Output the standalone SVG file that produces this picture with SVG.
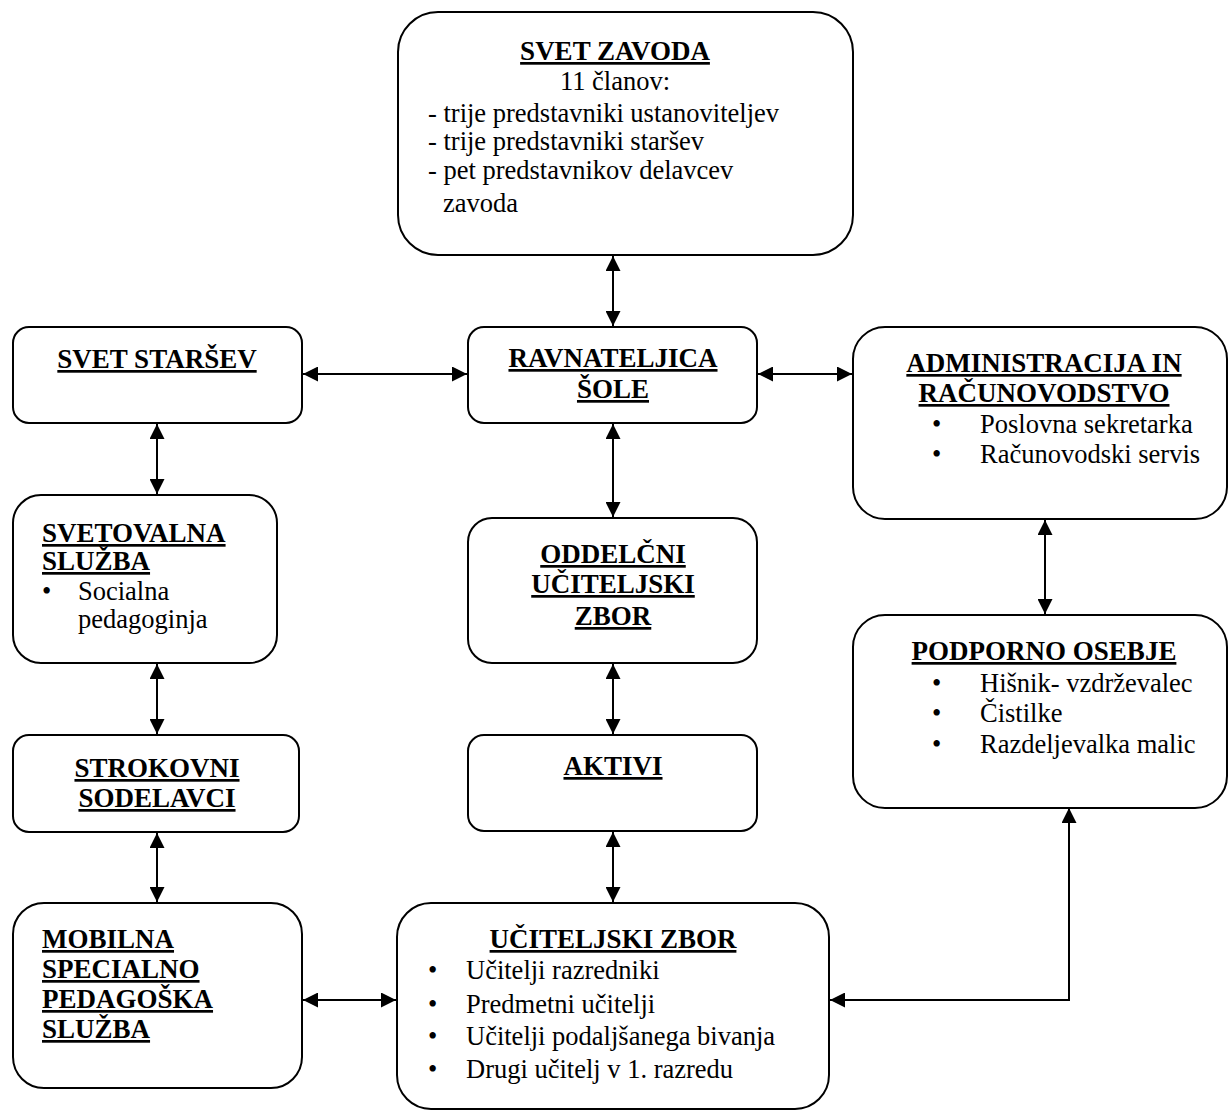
<svg xmlns="http://www.w3.org/2000/svg" width="1229" height="1111" viewBox="0 0 1229 1111">
<style>
.box{fill:#fff;stroke:#000;stroke-width:2}
text{font-family:"Liberation Serif","Times New Roman",serif;font-size:26.5px;fill:#000}
.h{font-weight:bold;text-decoration:underline;font-size:27px}
.c{text-anchor:middle}
.ln{fill:none;stroke:#000;stroke-width:2}
</style>
<defs>
<marker id="ah" markerUnits="userSpaceOnUse" markerWidth="16" markerHeight="15" refX="15" refY="7.5" orient="auto-start-reverse">
<path d="M0,0 L15,7.5 L0,15 z" fill="#000"/>
</marker>
</defs>
<rect width="1229" height="1111" fill="#fff"/>
<g id="connectors">
<line class="ln" x1="613" y1="256" x2="613" y2="326" marker-start="url(#ah)" marker-end="url(#ah)"/>
<line class="ln" x1="303" y1="374" x2="467" y2="374" marker-start="url(#ah)" marker-end="url(#ah)"/>
<line class="ln" x1="758" y1="374" x2="852" y2="374" marker-start="url(#ah)" marker-end="url(#ah)"/>
<line class="ln" x1="613" y1="424" x2="613" y2="517" marker-start="url(#ah)" marker-end="url(#ah)"/>
<line class="ln" x1="613" y1="664" x2="613" y2="734" marker-start="url(#ah)" marker-end="url(#ah)"/>
<line class="ln" x1="613" y1="832" x2="613" y2="902" marker-start="url(#ah)" marker-end="url(#ah)"/>
<line class="ln" x1="157" y1="424" x2="157" y2="494" marker-start="url(#ah)" marker-end="url(#ah)"/>
<line class="ln" x1="157" y1="664" x2="157" y2="734" marker-start="url(#ah)" marker-end="url(#ah)"/>
<line class="ln" x1="157" y1="833" x2="157" y2="902" marker-start="url(#ah)" marker-end="url(#ah)"/>
<line class="ln" x1="303" y1="1000" x2="396" y2="1000" marker-start="url(#ah)" marker-end="url(#ah)"/>
<line class="ln" x1="1045" y1="520" x2="1045" y2="614" marker-start="url(#ah)" marker-end="url(#ah)"/>
<polyline class="ln" points="830,1000 1069,1000 1069,808" marker-start="url(#ah)" marker-end="url(#ah)"/>
</g>
<g id="svet-zavoda">
<rect class="box" x="398" y="12" width="455" height="243" rx="40" ry="40"/>
<text class="h c" x="615" y="60">SVET ZAVODA</text>
<text class="c" x="615" y="90">11 članov:</text>
<text x="428" y="122">- trije predstavniki ustanoviteljev</text>
<text x="428" y="150">- trije predstavniki staršev</text>
<text x="428" y="179">- pet predstavnikov delavcev</text>
<text x="443" y="212">zavoda</text>
</g>
<g id="svet-starsev">
<rect class="box" x="13" y="327" width="289" height="96" rx="16" ry="16"/>
<text class="h c" x="157" y="368">SVET STARŠEV</text>
</g>
<g id="ravnateljica">
<rect class="box" x="468" y="327" width="289" height="96" rx="16" ry="16"/>
<text class="h c" x="613" y="367">RAVNATELJICA</text>
<text class="h c" x="613" y="398">ŠOLE</text>
</g>
<g id="administracija">
<rect class="box" x="853" y="327" width="374" height="192" rx="32" ry="32"/>
<text class="h c" x="1044" y="372">ADMINISTRACIJA IN</text>
<text class="h c" x="1044" y="402">RAČUNOVODSTVO</text>
<text x="932" y="433">•</text>
<text x="980" y="433">Poslovna sekretarka</text>
<text x="932" y="463">•</text>
<text x="980" y="463">Računovodski servis</text>
</g>
<g id="svetovalna">
<rect class="box" x="13" y="495" width="264" height="168" rx="28" ry="28"/>
<text class="h" x="42" y="542">SVETOVALNA</text>
<text class="h" x="42" y="570">SLUŽBA</text>
<text x="42" y="600">•</text>
<text x="78" y="600">Socialna</text>
<text x="78" y="628">pedagoginja</text>
</g>
<g id="oddelcni">
<rect class="box" x="468" y="518" width="289" height="145" rx="24" ry="24"/>
<text class="h c" x="613" y="563">ODDELČNI</text>
<text class="h c" x="613" y="593">UČITELJSKI</text>
<text class="h c" x="613" y="625">ZBOR</text>
</g>
<g id="podporno">
<rect class="box" x="853" y="615" width="374" height="193" rx="32" ry="32"/>
<text class="h c" x="1044" y="660">PODPORNO OSEBJE</text>
<text x="932" y="692">•</text>
<text x="980" y="692">Hišnik- vzdrževalec</text>
<text x="932" y="722">•</text>
<text x="980" y="722">Čistilke</text>
<text x="932" y="753">•</text>
<text x="980" y="753">Razdeljevalka malic</text>
</g>
<g id="strokovni">
<rect class="box" x="13" y="735" width="286" height="97" rx="16" ry="16"/>
<text class="h c" x="157" y="777">STROKOVNI</text>
<text class="h c" x="157" y="807">SODELAVCI</text>
</g>
<g id="aktivi">
<rect class="box" x="468" y="735" width="289" height="96" rx="16" ry="16"/>
<text class="h c" x="613" y="775">AKTIVI</text>
</g>
<g id="mobilna">
<rect class="box" x="13" y="903" width="289" height="185" rx="31" ry="31"/>
<text class="h" x="42" y="948">MOBILNA</text>
<text class="h" x="42" y="978">SPECIALNO</text>
<text class="h" x="42" y="1008">PEDAGOŠKA</text>
<text class="h" x="42" y="1038">SLUŽBA</text>
</g>
<g id="uciteljski-zbor">
<rect class="box" x="397" y="903" width="432" height="206" rx="34" ry="34"/>
<text class="h c" x="613" y="948">UČITELJSKI ZBOR</text>
<text x="428" y="979">•</text>
<text x="466" y="979">Učitelji razredniki</text>
<text x="428" y="1013">•</text>
<text x="466" y="1013">Predmetni učitelji</text>
<text x="428" y="1045">•</text>
<text x="466" y="1045">Učitelji podaljšanega bivanja</text>
<text x="428" y="1078">•</text>
<text x="466" y="1078">Drugi učitelj v 1. razredu</text>
</g>
</svg>
